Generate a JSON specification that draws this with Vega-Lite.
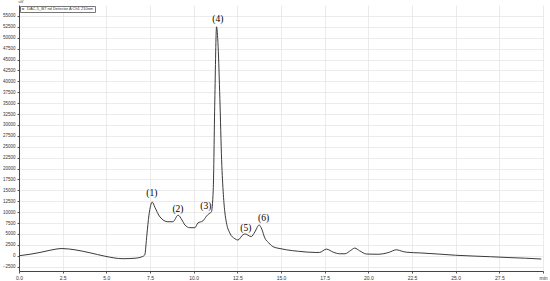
{
  "$schema": "https://vega.github.io/schema/vega-lite/v6.json",
  "autosize": "none",
  "width": 524,
  "height": 266,
  "padding": {"left": 19, "top": 5, "right": 7, "bottom": 10},
  "background": "white",
  "config": {"view": {"stroke": null}, "font": "Liberation Sans"},
  "datasets": {
    "trace": [
      {"time": 0.0, "uV": 0},
      {"time": 0.63, "uV": 340},
      {"time": 1.2, "uV": 750},
      {"time": 1.77, "uV": 1250},
      {"time": 2.46, "uV": 1650},
      {"time": 3.2, "uV": 1360},
      {"time": 4.06, "uV": 680},
      {"time": 4.92, "uV": -110},
      {"time": 5.95, "uV": -680},
      {"time": 6.64, "uV": -570},
      {"time": 7.09, "uV": -160},
      {"time": 7.2, "uV": 200},
      {"time": 7.32, "uV": 4770},
      {"time": 7.44, "uV": 9300},
      {"time": 7.63, "uV": 12300},
      {"time": 7.78, "uV": 11100},
      {"time": 8.07, "uV": 8900},
      {"time": 8.52, "uV": 7800},
      {"time": 8.81, "uV": 7800},
      {"time": 9.11, "uV": 9300},
      {"time": 9.33, "uV": 8200},
      {"time": 9.5, "uV": 7050},
      {"time": 9.78, "uV": 6430},
      {"time": 10.07, "uV": 6430},
      {"time": 10.24, "uV": 7500},
      {"time": 10.53, "uV": 8000},
      {"time": 10.74, "uV": 9100},
      {"time": 10.93, "uV": 9800},
      {"time": 11.01, "uV": 10000},
      {"time": 11.12, "uV": 15000},
      {"time": 11.21, "uV": 35500},
      {"time": 11.31, "uV": 52500},
      {"time": 11.4, "uV": 48000},
      {"time": 11.5, "uV": 36000},
      {"time": 11.6, "uV": 22000},
      {"time": 11.7, "uV": 14000},
      {"time": 11.79, "uV": 9800},
      {"time": 11.87, "uV": 7700},
      {"time": 12.07, "uV": 5200},
      {"time": 12.36, "uV": 3900},
      {"time": 12.53, "uV": 3600},
      {"time": 12.82, "uV": 4800},
      {"time": 12.93, "uV": 5000},
      {"time": 13.3, "uV": 4400},
      {"time": 13.5, "uV": 5450},
      {"time": 13.75, "uV": 7050},
      {"time": 13.9, "uV": 6100},
      {"time": 14.07, "uV": 4100},
      {"time": 14.3, "uV": 2950},
      {"time": 14.53, "uV": 2100},
      {"time": 15.0, "uV": 1600},
      {"time": 15.31, "uV": 1360},
      {"time": 16.0, "uV": 1020},
      {"time": 17.0, "uV": 750},
      {"time": 17.2, "uV": 750},
      {"time": 17.6, "uV": 1520},
      {"time": 18.0, "uV": 800},
      {"time": 18.37, "uV": 450},
      {"time": 18.66, "uV": 450},
      {"time": 19.0, "uV": 1250},
      {"time": 19.22, "uV": 1750},
      {"time": 19.5, "uV": 1140},
      {"time": 19.89, "uV": 390},
      {"time": 20.5, "uV": 340},
      {"time": 20.85, "uV": 450},
      {"time": 21.2, "uV": 800},
      {"time": 21.6, "uV": 1360},
      {"time": 22.0, "uV": 950},
      {"time": 22.2, "uV": 800},
      {"time": 23.0, "uV": 640},
      {"time": 24.0, "uV": 390},
      {"time": 25.0, "uV": 110},
      {"time": 26.0, "uV": -70},
      {"time": 27.0, "uV": -230},
      {"time": 28.0, "uV": -410},
      {"time": 29.0, "uV": -570},
      {"time": 29.9, "uV": -750}
    ],
    "peaks": [
      {"time": 7.6, "uV": 14300, "label": "(1)"},
      {"time": 9.1, "uV": 10700, "label": "(2)"},
      {"time": 10.7, "uV": 11400, "label": "(3)"},
      {"time": 11.38, "uV": 54300, "label": "(4)"},
      {"time": 12.99, "uV": 6400, "label": "(5)"},
      {"time": 14.0, "uV": 8600, "label": "(6)"}
    ]
  },
  "encoding": {
    "x": {
      "field": "time", "type": "quantitative",
      "scale": {"domain": [0, 30], "nice": false, "zero": false},
      "axis": {
        "values": [0, 2.5, 5, 7.5, 10, 12.5, 15, 17.5, 20, 22.5, 25, 27.5, 30],
        "labelExpr": "datum.value == 30 ? 'min' : format(datum.value, '.1f')",
        "grid": true,
        "labelFontSize": 5, "labelColor": "#333", "labelPadding": 2,
        "tickSize": 2, "tickColor": "#555", "domainColor": "#444",
        "gridColor": "#e2e2e2", "gridWidth": 0.7,
        "labelFlush": false, "labelOverlap": false, "title": null
      }
    },
    "y": {
      "field": "uV", "type": "quantitative",
      "scale": {"domain": [-3500, 57500], "nice": false, "zero": false},
      "axis": {
        "values": [-2500, 0, 2500, 5000, 7500, 10000, 12500, 15000, 17500, 20000, 22500, 25000, 27500, 30000, 32500, 35000, 37500, 40000, 42500, 45000, 47500, 50000, 52500, 55000],
        "format": "d",
        "grid": true,
        "labelFontSize": 4.5, "labelColor": "#333", "labelPadding": 2,
        "tickSize": 2, "tickColor": "#555", "domainColor": "#444",
        "gridColor": "#e2e2e2", "gridWidth": 0.7,
        "labelOverlap": false, "labelFlush": false,
        "title": "uV", "titleAngle": 0, "titleX": -1, "titleY": -2,
        "titleAlign": "left", "titleBaseline": "bottom",
        "titleFontSize": 4, "titleFontWeight": "normal", "titleColor": "#333"
      }
    }
  },
  "layer": [
    {
      "data": {"name": "trace"},
      "mark": {"type": "line", "strokeWidth": 1, "interpolate": "monotone"},
      "encoding": {
        "color": {
          "datum": "DAC-5_BT nd Detector A Ch1 210nm",
          "scale": {"range": ["#3a3a3a"]},
          "legend": {
            "orient": "none", "legendX": 1, "legendY": 1,
            "title": null, "strokeColor": "#777", "padding": 1,
            "labelFontSize": 4, "labelColor": "#333",
            "symbolType": "stroke", "symbolSize": 6, "symbolStrokeWidth": 1,
            "labelOffset": 2, "fillColor": "white"
          }
        }
      }
    },
    {
      "data": {"name": "peaks"},
      "mark": {"type": "text", "font": "Liberation Serif", "fontSize": 9.5, "fill": "#000", "baseline": "middle"},
      "encoding": {
        "text": {"field": "label"}
      }
    }
  ]
}
